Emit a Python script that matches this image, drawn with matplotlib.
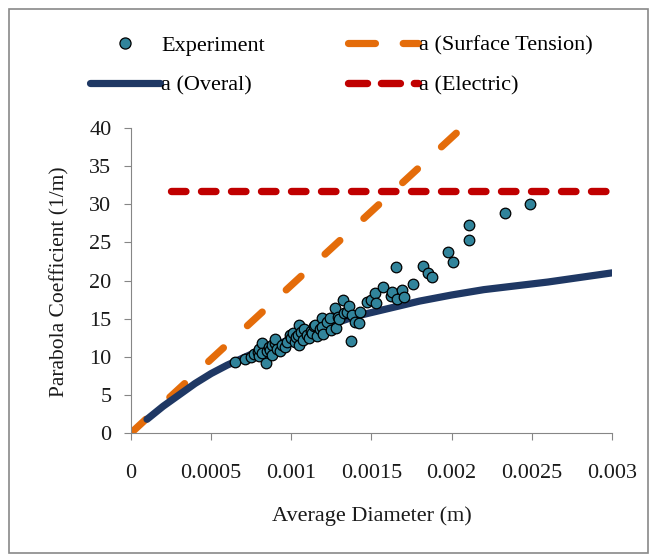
import matplotlib.pyplot as plt
from matplotlib.patches import Rectangle
from matplotlib.lines import Line2D

plt.rcParams['font.family'] = ['Liberation Serif', 'DejaVu Serif']
plt.rcParams['lines.scale_dashes'] = False

# experiment points (diameter in m, coefficient in 1/m)
exp_x = [0.00065, 0.00071, 0.00075, 0.00077, 0.00079, 0.0008, 0.0008, 0.00082, 0.00082,
         0.00084, 0.00085, 0.00086, 0.00087, 0.00088, 0.00088, 0.0009, 0.0009, 0.00091,
         0.00093, 0.00094, 0.00096, 0.00097, 0.00099, 0.001, 0.00101, 0.00102, 0.00103,
         0.00104, 0.00105, 0.00105, 0.00106, 0.00107, 0.00108, 0.0011, 0.00111, 0.00112,
         0.00113, 0.00114, 0.00115, 0.00116, 0.00118, 0.00119, 0.00119, 0.0012, 0.00122,
         0.00124, 0.00125, 0.00127, 0.00128, 0.00129, 0.0013, 0.00132, 0.00133, 0.00135,
         0.00136, 0.00137, 0.00138, 0.0014, 0.00142, 0.00143, 0.00147, 0.0015, 0.00152,
         0.00153, 0.00157, 0.00162, 0.00163, 0.00165, 0.00166, 0.00169, 0.0017, 0.00176,
         0.00182, 0.00185, 0.00188, 0.00198, 0.00201, 0.00211, 0.00211, 0.00233, 0.00249]
exp_y = [9.3, 9.7, 10.0, 10.4, 10.6, 10.1, 11.0, 11.8, 10.5,
         9.2, 10.8, 11.3, 10.9, 11.5, 10.2, 11.8, 12.3, 11.0,
         10.7, 11.6, 11.3, 12.0, 12.9, 12.4, 13.1, 12.0, 12.6,
         12.9, 11.5, 14.2, 13.3, 12.2, 13.6, 12.8, 12.5, 13.4,
         13.1, 14.0, 14.2, 12.7, 13.6, 15.1, 13.9, 13.0, 14.5,
         15.1, 13.5, 16.4, 13.8, 15.2, 14.9, 17.4, 15.7, 15.9,
         16.7, 12.1, 15.5, 14.6, 14.4, 15.9, 17.2, 17.4, 18.4,
         17.0, 19.1, 18.0, 18.5, 21.8, 17.6, 18.8, 17.8, 19.6,
         21.9, 21.0, 20.5, 23.7, 22.4, 27.3, 25.3, 28.8, 30.0]

# model curves
overall_x = [0.0001, 0.0002, 0.0003, 0.0004, 0.0005, 0.0006, 0.0008, 0.001, 0.0012,
             0.0014, 0.0016, 0.0018, 0.002, 0.0022, 0.0024, 0.0026, 0.0028, 0.003]
overall_y = [1.8, 3.5, 5.0, 6.5, 7.8, 8.9, 10.8, 12.3, 13.9,
             15.3, 16.3, 17.3, 18.1, 18.8, 19.3, 19.8, 20.4, 21.0]
surface_x = [0.0, 0.0021]
surface_y = [0.0, 40.7]
electric_x = [0.00025, 0.003]
electric_y = [31.7, 31.7]

teal = '#31849B'
orange = '#E46C0A'
navy = '#1F3864'
red = '#C00000'
fs = 16

fig = plt.figure(figsize=(6.52, 5.58), dpi=100)
ax = fig.add_axes([131 / 652, 1 - 433 / 558, 481 / 652, 305 / 558])

ax.scatter(exp_x, exp_y, s=58, c=teal, edgecolors='black', linewidths=0.9, zorder=3)
ax.plot(surface_x, surface_y, color=orange, lw=5.2, dashes=(14.5, 23.5),
        dash_capstyle='round', zorder=2)
ax.plot(overall_x, overall_y, color=navy, lw=5.2, solid_capstyle='round', zorder=2)
ax.plot(electric_x, electric_y, color=red, lw=5.3, dashes=(10.4, 11.2),
        dash_capstyle='round', zorder=2)

ax.set_xlim(0, 0.003)
ax.set_ylim(0, 40)
ax.set_xticks([0, 0.0005, 0.001, 0.0015, 0.002, 0.0025, 0.003])
ax.set_xticklabels(['0', '0.0005', '0.001', '0.0015', '0.002', '0.0025', '0.003'])
ax.set_yticks(range(0, 41, 5))

for s in ['top', 'right']:
    ax.spines[s].set_visible(False)
for s in ['left', 'bottom']:
    ax.spines[s].set_color('#868686')
ax.tick_params(direction='out', length=5, color='#868686', labelsize=fs,
               labelcolor='#1a1a1a')
ax.tick_params(axis='x', pad=17)
ax.tick_params(axis='y', pad=9)

ax.set_xlabel('Average Diameter (m)', fontsize=fs, color='#1a1a1a')
ax.xaxis.set_label_coords(0.5, -0.24)
ax.set_ylabel('Parabola Coefficient (1/m)', fontsize=15.5, color='#1a1a1a')
ax.yaxis.set_label_coords(-0.127, 0.495)

# legend handles, order gives rows: Experiment | Surface, Overal | Electric
h_exp = Line2D([], [], ls='none', marker='o', ms=8, mfc=teal, mec='black', mew=0.9)
h_over = Line2D([], [], color=navy, lw=5.2, solid_capstyle='round')
h_surf = Line2D([], [], color=orange, lw=5.2, dashes=(19.4, 20), dash_capstyle='round')
h_elec = Line2D([], [], color=red, lw=5.3, dashes=(13.7, 10), dash_capstyle='round')
fig.legend([h_exp, h_over, h_surf, h_elec],
           ['Experiment', 'a (Overal)', 'a (Surface Tension)', 'a (Electric)'],
           ncol=2, loc='upper left', bbox_to_anchor=(90 / 652, 1 - 35 / 558),
           frameon=False, fontsize=fs, handlelength=3.15, handletextpad=0.05,
           columnspacing=3.75, labelspacing=0.87, borderaxespad=0, borderpad=0)

fig.patches.append(Rectangle((9 / 652, 1 - 553 / 558), 639 / 652, 544 / 558,
                             transform=fig.transFigure, fill=False,
                             edgecolor='#898989', lw=1.2))

fig.savefig('out.png', dpi=100)
